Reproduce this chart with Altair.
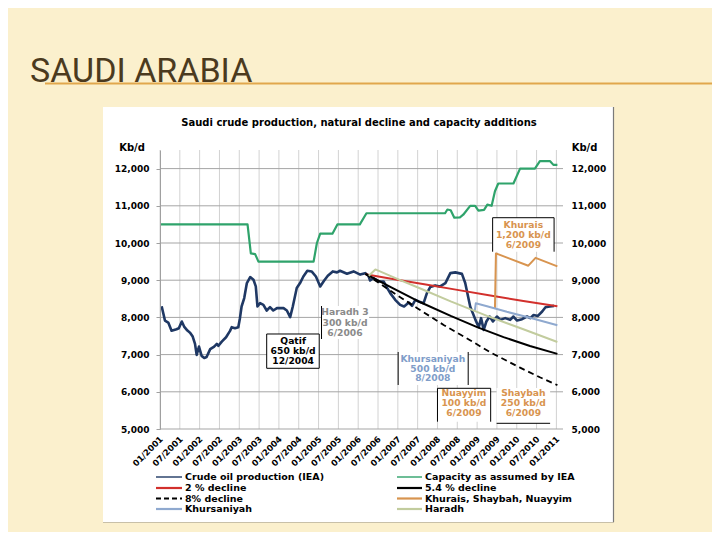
import json
import altair as alt
import pandas as pd

# ---------------- values (x = months since 01/2001, y = kb/d) ----------------
prod_month = [0.5, 1.5, 2.5, 3.5, 5, 5.7, 6.6, 7.3, 8.3, 9.1, 9.9, 10.6, 11.1, 11.8, 12.6, 13.4, 14.1, 15.2,
              16.4, 17.2, 17.7, 18.7, 20, 21.2, 21.7, 22.7, 23.7, 24.2, 24.7, 25.5, 26.3, 27.3, 28.3, 29, 29.5,
              30.3, 31.3, 32.3, 33.3, 34.3, 35.4, 37.4, 38.4, 39.4, 40.2, 41.4, 42.4, 43.4, 44.6, 45.9, 47.2,
              48.5, 49.6, 50.8, 52.3, 53.6, 54.5, 56.6, 58.6, 60.6, 62.1, 63.1, 63.6, 64.6, 66.2, 67.7, 68.8,
              69.7, 71.2, 72.7, 73.9, 75.3, 76.3, 77.3, 78.3, 79.8, 80.8, 81.8, 83.3, 84.8, 86.4, 87.9, 89.4,
              91.4, 92.4, 93.9, 95.5, 96.5, 97.2, 98, 98.8, 99.8, 100.8, 102, 103, 104.5, 106, 107, 108.1,
              109.6, 111.1, 112.1, 113.1, 114.4, 115.7, 116.7, 118, 119.3]
prod_kbd = [8300, 7915, 7862, 7640, 7683, 7710, 7890, 7754, 7646, 7590, 7485, 7288, 6992, 7216, 6965, 6910,
            6935, 7146, 7216, 7288, 7236, 7350, 7466, 7638, 7737, 7710, 7737, 7979, 8293, 8519, 8923, 9084,
            9012, 8833, 8293, 8383, 8338, 8185, 8275, 8185, 8248, 8248, 8185, 8006, 8293, 8788, 8923, 9100,
            9254, 9236, 9100, 8830, 8980, 9120, 9236, 9210, 9254, 9175, 9236, 9150, 9190, 9120, 8993, 9055,
            8966, 8966, 8788, 8653, 8473, 8338, 8293, 8400, 8310, 8473, 8428, 8383, 8653, 8815, 8860, 8833,
            8923, 9190, 9210, 9170, 8923, 8293, 7934, 7737, 7980, 7665, 7890, 8024, 7890, 8024, 7934, 7980,
            7934, 8024, 7916, 7952, 8024, 7980, 8065, 8040, 8158, 8275, 8293, 8310]

cap_month = [0, 26.5, 27.5, 28.8, 29.8, 46.5, 47.5, 48.5, 52.2, 53.7, 60.5, 62.5, 86.3, 87.0, 88.0, 89.1,
             90.8, 91.8, 93.9, 95.4, 96.4, 98.1, 99.1, 100.4, 101.4, 102.4, 107.0, 109.0, 113.5, 115.0,
             118.1, 119.1, 120.3]
cap_kbd = [10500, 10500, 9720, 9700, 9500, 9500, 10000, 10250, 10250, 10500, 10500, 10800, 10800, 10900,
           10880, 10680, 10690, 10760, 11000, 11000, 10870, 10890, 11030, 11000, 11390, 11600, 11600, 12000,
           12000, 12200, 12200, 12100, 12100]

dec2_month = [62.2, 70, 80, 90, 100, 110, 120.3]
dec2_kbd = [9160, 9040, 8890, 8740, 8590, 8440, 8300]

dec54_month = [62.2, 70, 79, 88, 96, 104, 112, 120.3]
dec54_kbd = [9170, 8810, 8400, 8040, 7740, 7470, 7230, 7020]

dec8_month = [62.2, 70, 78, 86, 94, 100, 109, 115, 120.3]
dec8_kbd = [9170, 8700, 8240, 7790, 7380, 7060, 6650, 6390, 6180]

ksn_month = [101.4, 101.7, 111.5, 113.7, 120.3]
ksn_kbd = [8240, 9720, 9390, 9600, 9370]

khursaniyah_month = [95.3, 95.6, 99, 105, 112, 120.3]
khursaniyah_kbd = [8180, 8380, 8300, 8150, 7990, 7790]

haradh_month = [63.2, 65.2, 72, 79, 88, 99, 110, 120.3]
haradh_kbd = [9120, 9290, 9030, 8770, 8430, 8040, 7680, 7340]

series_names = ["Crude oil production (IEA)", "Capacity as assumed by IEA", "2 % decline", "5.4 % decline",
                "8% decline", "Khurais, Shaybah, Nuayyim", "Khursaniyah", "Haradh"]
series_colors = ["#1F3864", "#2FA36B", "#D2302C", "#000000", "#000000", "#D8944F", "#8FA9CF", "#C2CC9E"]

x_tick_labels = ["01/2001", "07/2001", "01/2002", "07/2002", "01/2003", "07/2003", "01/2004", "07/2004",
                 "01/2005", "07/2005", "01/2006", "07/2006", "01/2007", "07/2007", "01/2008", "07/2008",
                 "01/2009", "07/2009", "01/2010", "07/2010", "01/2011"]
x_tick_months = [0, 6, 12, 18, 24, 30, 36, 42, 48, 54, 60, 66, 72, 78, 84, 90, 96, 102, 108, 114, 120]
y_ticks = [5000, 6000, 7000, 8000, 9000, 10000, 11000, 12000]

ann_lines = [["Qatif", "650 kb/d", "12/2004"], ["Haradh 3", "300 kb/d", "6/2006"],
             ["Khurais", "1,200 kb/d", "6/2009"], ["Khursaniyah", "500 kb/d", "8/2008"],
             ["Nuayyim", "100 kb/d", "6/2009"], ["Shaybah", "250 kb/d", "6/2009"]]
ann_month = [40.3, 56.0, 110.0, 82.6, 92.0, 110.0]
ann_kbd = [[7374, 7105, 6836], [8137, 7857, 7573], [10484, 10215, 9946], [6895, 6626, 6358],
           [5960, 5690, 5420], [5960, 5690, 5420]]
ann_colors = ["#000000", "#8A8A8A", "#D8944F", "#7F9DC9", "#D8944F", "#D8944F"]
box_m1 = [32.3, 48.9, 100.7, 72.1, 84.0, 101.9]
box_m2 = [48.2, 63.3, 119.3, 93.3, 100.1, 118.1]
box_lo = [6632, 7419, 9766, 6183, 5196, 5153]
box_hi = [7554, 8306, 10680, 7070, 6094, 6102]
box_edges = ["tblr", "l", "tlr", "lr", "tlr", "b"]

# ---------------- chart ----------------
W, H = 403, 279
FONT = "DejaVu Sans"
xs = alt.Scale(domain=[0, 122], nice=False, zero=False)
ys = alt.Scale(domain=[5000, 12500], nice=False, zero=False)
one = pd.DataFrame({"k": [0]})

x_axis = alt.Axis(values=x_tick_months, labels=False, tickSize=4, tickColor="#a0a0a0",
                  domainColor="#a0a0a0", grid=False, title=None, zindex=1)
y_left = alt.Axis(values=y_ticks, format=",d", labelFont=FONT, labelFontSize=9, labelFontWeight="bold",
                  labelColor="black", labelPadding=7, tickSize=4, tickColor="#a0a0a0",
                  domainColor="#a0a0a0", grid=False, title=None, zindex=1)
y_right = alt.Axis(orient="right", values=y_ticks, format=",d", labelFont=FONT, labelFontSize=9,
                   labelFontWeight="bold", labelColor="black", labelPadding=8, ticks=False, domain=False,
                   grid=False, title=None, zindex=1)


def ptext(txt, x, y, size, font=FONT, weight="bold", color="black", align="center", baseline="middle"):
    return alt.Chart(one).mark_text(text=txt, font=font, fontSize=size, fontWeight=weight, color=color,
                                    align=align, baseline=baseline).encode(x=alt.value(x), y=alt.value(y))


layers = []
# slide: white picture panel, slide title and underline
layers.append(alt.Chart(one).mark_rect(fill="white").encode(
    x=alt.value(-57), x2=alt.value(453.5), y=alt.value(-43), y2=alt.value(372)))
layers.append(alt.Chart(one).mark_rule(color="#7a7a7a", strokeWidth=1.2).encode(
    x=alt.value(453.5), y=alt.value(-43), y2=alt.value(372)))
layers.append(alt.Chart(one).mark_rule(color="#c8c0a8", strokeWidth=1).encode(
    x=alt.value(-57), x2=alt.value(454), y=alt.value(372.5)))
layers.append(ptext("SAUDI ARABIA", -130, -68, 34, font="Roboto", weight="normal", color="#4B3A1E",
                    align="left", baseline="alphabetic"))
layers.append(alt.Chart(one).mark_rule(color="#E1A74C", strokeWidth=2).encode(
    x=alt.value(-115), x2=alt.value(560), y=alt.value(-66.5)))

# gridlines (horizontal carries the right y axis)
layers.append(alt.Chart(pd.DataFrame({"m": x_tick_months})).mark_rule(color="#d2d2d2", strokeWidth=1).encode(
    x=alt.X("m:Q", scale=xs, axis=None)))
layers.append(alt.Chart(pd.DataFrame({"v": y_ticks})).mark_rule(color="#a5a5a5", strokeWidth=1).encode(
    y=alt.Y("v:Q", scale=ys, axis=y_right)))

series_data = [(prod_month, prod_kbd), (cap_month, cap_kbd), (dec2_month, dec2_kbd), (dec54_month, dec54_kbd),
               (dec8_month, dec8_kbd), (ksn_month, ksn_kbd), (khursaniyah_month, khursaniyah_kbd),
               (haradh_month, haradh_kbd)]
widths = [2.6, 2.2, 2.0, 2.0, 1.8, 2.0, 2.0, 2.0]
for i, (mm, vv) in enumerate(series_data):
    kw = dict(color=series_colors[i], strokeWidth=widths[i], strokeJoin="round")
    if i == 4:
        kw["strokeDash"] = [6, 4]
    df = pd.DataFrame({"m": mm, "v": vv, "s": series_names[i]})
    layers.append(alt.Chart(df).mark_line(**kw).encode(
        x=alt.X("m:Q", scale=xs, axis=x_axis if i == 0 else None),
        y=alt.Y("v:Q", scale=ys, axis=y_left if i == 0 else None)))

# x tick labels (rotated), placed by the x scale
xl_df = pd.DataFrame({"m": x_tick_months, "t": x_tick_labels})
layers.append(alt.Chart(xl_df).mark_text(font=FONT, fontSize=8.5, fontWeight="bold", color="black",
                                         angle=315, align="right", baseline="middle", dx=2).encode(
    x=alt.X("m:Q", scale=xs, axis=None), y=alt.value(H + 10), text="t:N"))

# annotation boxes
box_df = pd.DataFrame({"m1": box_m1, "m2": box_m2, "lo": box_lo, "hi": box_hi})
layers.append(alt.Chart(box_df).mark_rect(fill="white").encode(
    x=alt.X("m1:Q", scale=xs, axis=None), x2="m2:Q",
    y=alt.Y("lo:Q", scale=ys, axis=None), y2="hi:Q"))
seg = []
for i, e in enumerate(box_edges):
    if "t" in e:
        seg.append((box_m1[i], box_m2[i], box_hi[i], box_hi[i]))
    if "b" in e:
        seg.append((box_m1[i], box_m2[i], box_lo[i], box_lo[i]))
    if "l" in e:
        seg.append((box_m1[i], box_m1[i], box_lo[i], box_hi[i]))
    if "r" in e:
        seg.append((box_m2[i], box_m2[i], box_lo[i], box_hi[i]))
seg_df = pd.DataFrame(seg, columns=["a", "b", "c", "d"])
layers.append(alt.Chart(seg_df).mark_rule(color="black", strokeWidth=1).encode(
    x=alt.X("a:Q", scale=xs, axis=None), x2="b:Q",
    y=alt.Y("c:Q", scale=ys, axis=None), y2="d:Q"))
rows = []
for i, lines in enumerate(ann_lines):
    for j, t in enumerate(lines):
        rows.append({"t": t, "m": ann_month[i], "v": ann_kbd[i][j], "c": ann_colors[i]})
ann_df = pd.DataFrame(rows)
layers.append(alt.Chart(ann_df).mark_text(font=FONT, fontSize=9.2, fontWeight="bold").encode(
    x=alt.X("m:Q", scale=xs, axis=None), y=alt.Y("v:Q", scale=ys, axis=None),
    text="t:N", color=alt.Color("c:N", scale=None)))

# chart title and unit labels
layers.append(ptext("Saudi crude production, natural decline and capacity additions", 199, -27, 10))
layers.append(ptext("Kb/d", -28, -2.5, 10))
layers.append(ptext("Kb/d", 424.5, -2.5, 10))

# legend: two columns, four rows
leg_y = [327, 338, 348.5, 359]
leg_line_x = [(-4, 22), (237, 262)]
leg_text_x = [25, 265]
for i, name in enumerate(series_names):
    r, c = divmod(i, 2)
    kw = dict(color=series_colors[i], strokeWidth=2.2 if i not in (0, 1) else 1.4)
    if i == 4:
        kw["strokeDash"] = [5, 3]
    layers.append(alt.Chart(one).mark_rule(**kw).encode(
        x=alt.value(leg_line_x[c][0]), x2=alt.value(leg_line_x[c][1]), y=alt.value(leg_y[r])))
    layers.append(ptext(name, leg_text_x[c], leg_y[r], 9.5, align="left"))

chart = alt.layer(*layers).resolve_axis(y="independent").properties(
    width=W, height=H,
    autosize=alt.AutoSizeParams(type="none"),
    padding={"left": 152, "top": 142, "right": 149, "bottom": 103},
    background="#FBF0CD",
).configure_view(stroke=None)

chart.save("out.html", embed_options={"renderer": "svg", "actions": False})
